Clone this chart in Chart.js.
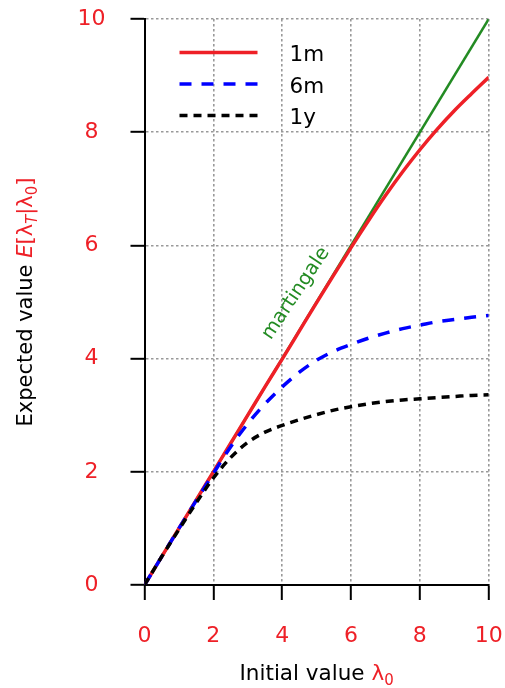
<!DOCTYPE html>
<html>
<head>
<meta charset="utf-8">
<script src="https://cdn.jsdelivr.net/npm/chart.js@4/dist/chart.umd.min.js"></script>
<style>
  html, body { margin: 0; padding: 0; background: #fff; }
  #wrap { width: 505px; height: 688px; position: relative; }
</style>
</head>
<body>
<div id="wrap"><canvas id="c"></canvas></div>
<script>
// Initial intensity values on the horizontal axis
const lambda0 = [0, 0.5, 1, 1.5, 2, 2.5, 3, 3.5, 4, 4.5, 5, 5.5, 6, 6.5, 7, 7.5, 8, 8.5, 9, 9.5, 10];
// Expected intensity after each horizon
const oneMonth = [0, 0.5, 1, 1.5, 2, 2.5, 3, 3.5, 3.99, 4.49, 4.99, 5.48, 5.96, 6.43, 6.88, 7.30, 7.69, 8.05, 8.38, 8.68, 8.97];
const sixMonth = [0, 0.5, 1, 1.49, 1.97, 2.44, 2.85, 3.2, 3.5, 3.76, 3.97, 4.13, 4.25, 4.36, 4.45, 4.53, 4.59, 4.65, 4.69, 4.73, 4.76];
const oneYear  = [0, 0.5, 0.98, 1.45, 1.89, 2.25, 2.52, 2.70, 2.82, 2.92, 3.01, 3.09, 3.15, 3.20, 3.24, 3.27, 3.29, 3.31, 3.33, 3.35, 3.36];
// Martingale reference: E[λ_T] = λ0
const martingaleX = [0, 10];
const martingaleY = [0, 10];
// Series names and axis ticks
const seriesNames = ['1m', '6m', '1y'];
const tickValues = [0, 2, 4, 6, 8, 10];

const RED = '#ee2027';
const BLUE = '#0000ff';
const BLACK = '#000000';
const GREEN = '#238b23';
const FONT = "'DejaVu Sans', sans-serif";
const LINE_W = 3.5;

const pts = (xs, ys) => xs.map((x, i) => ({ x, y: ys[i] }));

const styles = [
  { color: RED, dash: [] },
  { color: BLUE, dash: [12, 10] },
  { color: BLACK, dash: [8, 6] }
];

const series = [oneMonth, sixMonth, oneYear];

// first dataset is drawn on top
const datasets = [
  { label: seriesNames[2], data: pts(lambda0, series[2]), borderColor: styles[2].color, borderDash: styles[2].dash, borderWidth: LINE_W },
  { label: seriesNames[1], data: pts(lambda0, series[1]), borderColor: styles[1].color, borderDash: styles[1].dash, borderWidth: LINE_W },
  { label: seriesNames[0], data: pts(lambda0, series[0]), borderColor: styles[0].color, borderDash: styles[0].dash, borderWidth: LINE_W },
  { label: 'martingale', data: pts(martingaleX, martingaleY), borderColor: GREEN, borderWidth: 2.5 }
].map(d => Object.assign({ showLine: true, pointRadius: 0, fill: false, cubicInterpolationMode: 'monotone', borderCapStyle: 'butt' }, d));

// Draws axis titles (with mixed colours), the legend and the martingale label
const annotate = {
  id: 'annotate',
  afterDraw(chart) {
    const { ctx, chartArea: a, scales: { x, y } } = chart;
    const fs = 21.5, sub = 15;
    ctx.save();
    ctx.textBaseline = 'alphabetic';

    // x-axis title: "Initial value λ0"
    const xParts = [
      { t: 'Initial value ', c: BLACK, f: `${fs}px ${FONT}`, dy: 0 },
      { t: 'λ', c: RED, f: `${fs}px ${FONT}`, dy: 0 },
      { t: '0', c: RED, f: `${sub}px ${FONT}`, dy: 5 }
    ];
    let w = 0;
    xParts.forEach(p => { ctx.font = p.f; p.w = ctx.measureText(p.t).width; w += p.w; });
    let cx = (a.left + a.right) / 2 - w / 2;
    const by = 680;
    xParts.forEach(p => { ctx.font = p.f; ctx.fillStyle = p.c; ctx.textAlign = 'left'; ctx.fillText(p.t, cx, by + p.dy); cx += p.w; });

    // y-axis title: "Expected value E[λT|λ0]"
    const yParts = [
      { t: 'Expected value ', c: BLACK, f: `${fs - 0.5}px ${FONT}`, dy: 0 },
      { t: 'E', c: RED, f: `italic ${fs - 0.5}px ${FONT}`, dy: 0 },
      { t: '[λ', c: RED, f: `${fs - 0.5}px ${FONT}`, dy: 0 },
      { t: 'T', c: RED, f: `italic ${sub}px ${FONT}`, dy: 5 },
      { t: '|λ', c: RED, f: `${fs - 0.5}px ${FONT}`, dy: 0 },
      { t: '0', c: RED, f: `${sub}px ${FONT}`, dy: 5 },
      { t: ']', c: RED, f: `${fs - 0.5}px ${FONT}`, dy: 0 }
    ];
    w = 0;
    yParts.forEach(p => { ctx.font = p.f; p.w = ctx.measureText(p.t).width; w += p.w; });
    ctx.save();
    ctx.translate(32, (a.top + a.bottom) / 2);
    ctx.rotate(-Math.PI / 2);
    cx = -w / 2;
    yParts.forEach(p => { ctx.font = p.f; ctx.fillStyle = p.c; ctx.textAlign = 'left'; ctx.fillText(p.t, cx, p.dy); cx += p.w; });
    ctx.restore();

    // legend in the upper left of the plot
    const lx0 = a.left + 35, lx1 = a.left + 113, tx = a.left + 145;
    const rows = [a.top + 33.5, a.top + 65, a.top + 96.5];
    seriesNames.forEach((name, i) => {
      ctx.save();
      ctx.strokeStyle = styles[i].color;
      ctx.lineWidth = LINE_W;
      ctx.setLineDash(styles[i].dash);
      ctx.beginPath();
      ctx.moveTo(lx0, rows[i]);
      ctx.lineTo(lx1, rows[i]);
      ctx.stroke();
      ctx.restore();
      ctx.font = `${fs}px ${FONT}`;
      ctx.fillStyle = BLACK;
      ctx.textAlign = 'left';
      ctx.textBaseline = 'middle';
      ctx.fillText(name, tx, rows[i] + 3);
    });

    // label along the martingale line
    const p0x = x.getPixelForValue(0), p0y = y.getPixelForValue(0);
    const p1x = x.getPixelForValue(10), p1y = y.getPixelForValue(10);
    const ang = Math.atan2(p1y - p0y, p1x - p0x);
    ctx.save();
    ctx.translate(x.getPixelForValue(4.4), y.getPixelForValue(5.15));
    ctx.rotate(ang + 0.04);
    ctx.font = `19.5px ${FONT}`;
    ctx.fillStyle = GREEN;
    ctx.textAlign = 'center';
    ctx.textBaseline = 'middle';
    ctx.fillText('martingale', 0, 0);
    ctx.restore();

    ctx.restore();
  }
};

// fixed axis sizes so the plot area lands where intended
const fixPads = s => { s.paddingLeft = 0; s.paddingRight = 0; s.paddingTop = 0; s.paddingBottom = 0; };

const axisCommon = {
  type: 'linear',
  min: 0,
  max: 10,
  afterBuildTicks: s => { s.ticks = tickValues.map(v => ({ value: v })); },
  ticks: { color: RED, font: { family: FONT, size: 22 } },
  grid: { color: '#999999', lineWidth: 1.6, tickColor: BLACK, tickWidth: 2, tickBorderDash: [] },
  border: { color: BLACK, width: 2, dash: [2.5, 2.5] }
};

new Chart(document.getElementById('c'), {
  type: 'scatter',
  data: { datasets },
  options: {
    responsive: true,
    maintainAspectRatio: false,
    animation: false,
    events: [],
    layout: { padding: { left: 0, right: 16.3, top: 19, bottom: 0 } },
    plugins: { legend: { display: false }, tooltip: { enabled: false } },
    scales: {
      x: Object.assign({}, axisCommon, {
        position: 'bottom',
        afterFit: s => { s.height = 103; fixPads(s); },
        ticks: Object.assign({}, axisCommon.ticks, { padding: 23, maxRotation: 0 }),
        grid: Object.assign({}, axisCommon.grid, { tickLength: 15 })
      }),
      y: Object.assign({}, axisCommon, {
        position: 'left',
        afterFit: s => { s.width = 144.5; fixPads(s); },
        ticks: Object.assign({}, axisCommon.ticks, { padding: 25, crossAlign: 'center' }),
        grid: Object.assign({}, axisCommon.grid, { tickLength: 14 })
      })
    }
  },
  plugins: [annotate]
});
</script>
</body>
</html>
